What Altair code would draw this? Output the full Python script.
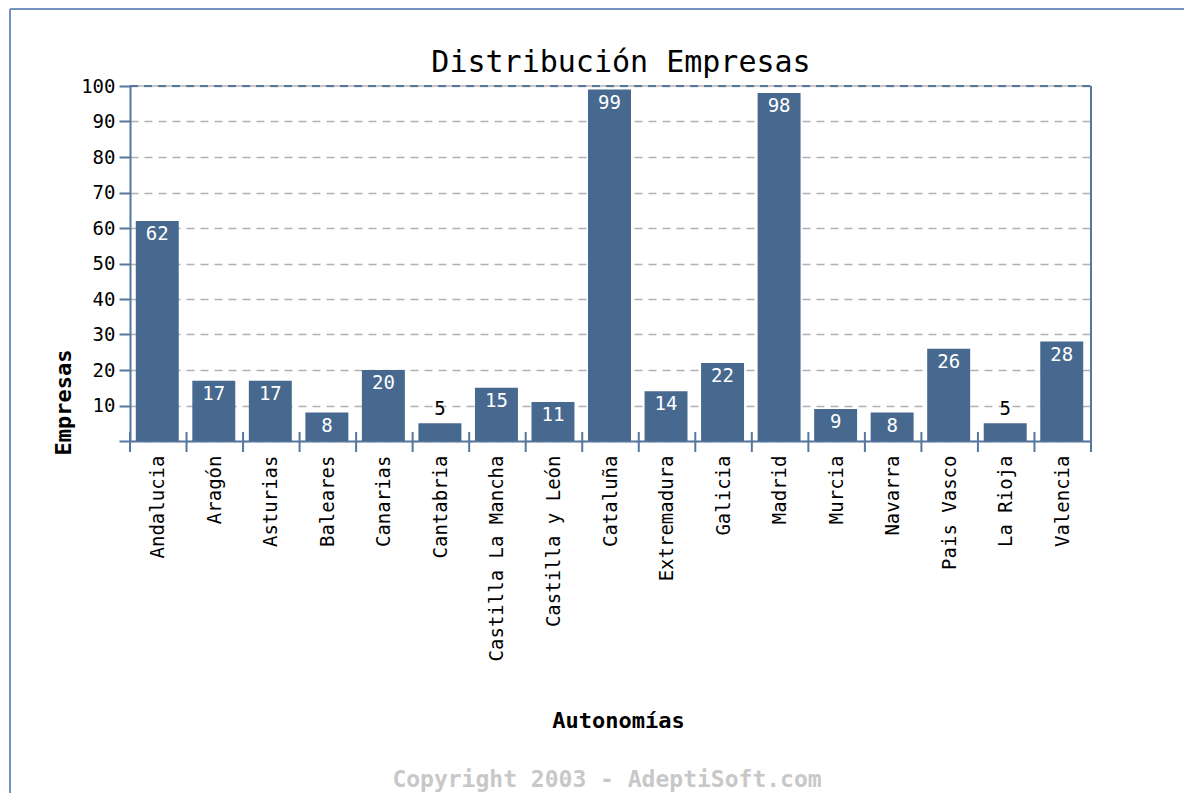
import altair as alt
import pandas as pd

categories = ["Andalucia", "Aragón", "Asturias", "Baleares", "Canarias", "Cantabria",
              "Castilla La Mancha", "Castilla y León", "Cataluña", "Extremadura", "Galicia",
              "Madrid", "Murcia", "Navarra", "Pais Vasco", "La Rioja", "Valencia"]
values = [62, 17, 17, 8, 20, 5, 15, 11, 99, 14, 22, 98, 9, 8, 26, 5, 28]
y_ticks = [0, 10, 20, 30, 40, 50, 60, 70, 80, 90, 100]
title_text = ["Distribución Empresas"]
x_title = "Autonomías"
y_title = "Empresas"
footer = ["Copyright 2003 - AdeptiSoft.com"]

df = pd.DataFrame({"cat": categories, "val": values})
df["inside"] = df["val"] >= 8

W, H = 961, 355
BLUE = "#5577a0"
FRAME = "#7393bd"
BAR = "#48698f"
FONT = "DejaVu Sans Mono"

x_axis = alt.Axis(
    title=x_title, labelAngle=270, labelAlign="right", labelBaseline="middle",
    labelPadding=14, ticks=False, domainColor=BLUE, domainWidth=2, labelLimit=400,
    labelFont=FONT, labelFontSize=19, labelColor="black", labelOverlap=False,
    titleFont=FONT, titleFontSize=22, titleFontWeight="bold", titleColor="black",
    titleX=488, titleY=279, titleAlign="center", titleBaseline="middle", titleAnchor="start",
)
y_axis = alt.Axis(
    values=y_ticks, labelExpr="datum.value == 0 ? '' : datum.label", labelOverlap=False,
    tickSize=11, tickColor=BLUE, tickWidth=2, domainColor=BLUE, domainWidth=2,
    grid=True, gridDash=[8, 6], gridColor="#b0b0b0", gridWidth=1.5,
    labelFont=FONT, labelFontSize=19, labelPadding=4, labelColor="black",
    title=y_title, titleFont=FONT, titleFontSize=22, titleFontWeight="bold", titleColor="black",
    titleX=-67, titleY=316, titleAngle=270, titleAlign="center", titleBaseline="middle",
    titleAnchor="start",
)

xs = alt.Scale(domain=categories, paddingInner=0, paddingOuter=0)
ys = alt.Scale(domain=[0, 100], nice=False)

X = alt.X("cat:N", sort=categories, scale=xs, axis=x_axis)
Y = alt.Y("val:Q", scale=ys, axis=y_axis)

base = alt.Chart(df)

bars = base.mark_bar(color=BAR, width=alt.RelativeBandSize(0.76), xOffset=-1).encode(x=X, y=Y)

inside = base.transform_filter("datum.inside").mark_text(
    font=FONT, fontSize=19, color="white", baseline="top", dy=4, xOffset=-1
).encode(x=X, y=Y, text="val:Q")
outside = base.transform_filter("!datum.inside").mark_text(
    font=FONT, fontSize=19, color="black", baseline="bottom", dy=-4, xOffset=-1
).encode(x=X, y=Y, text="val:Q")

ticks = base.mark_rule(color=BLUE, strokeWidth=2).encode(
    x=alt.X("cat:N", sort=categories, scale=xs, axis=x_axis, bandPosition=0),
    y=alt.value(H - 9), y2=alt.value(H + 11),
)

one = alt.Chart(pd.DataFrame({"k": [0]}))
right_edge = one.mark_rule(color=BLUE, strokeWidth=2).encode(
    x=alt.value(W), y=alt.value(0), y2=alt.value(H + 11))
top_gray = one.mark_rule(color="#c4c4c4", strokeWidth=2).encode(
    x=alt.value(0), x2=alt.value(W), y=alt.value(0))
top_blue = one.mark_rule(color=BLUE, strokeWidth=2, strokeDash=[8, 6]).encode(
    x=alt.value(0), x2=alt.value(W), y=alt.value(0))

frame_left = one.mark_rule(color=FRAME, strokeWidth=2).encode(
    x=alt.value(-120), y=alt.value(-77), y2=alt.value(H + 352))
frame_top = one.mark_rule(color=FRAME, strokeWidth=2).encode(
    x=alt.value(-120), x2=alt.value(W + 93), y=alt.value(-77))

title = alt.Chart(pd.DataFrame({"t": title_text})).mark_text(
    font=FONT, fontSize=30, color="black", align="center", baseline="alphabetic"
).encode(text="t:N", x=alt.value(491), y=alt.value(-14))

foot = alt.Chart(pd.DataFrame({"t": footer})).mark_text(
    font=FONT, fontSize=23, fontWeight="bold", color="#c8c8c8",
    align="center", baseline="middle"
).encode(text="t:N", x=alt.value(477), y=alt.value(694))

chart = alt.layer(
    bars, top_gray, top_blue, inside, outside, ticks, right_edge,
    frame_left, frame_top, title, foot
).properties(
    width=W, height=H,
    autosize=alt.AutoSizeParams(type="none"),
    padding={"left": 122, "top": 78, "right": 93, "bottom": 352},
).configure_view(fill="#e6e6e6", strokeWidth=0).configure(background="white")

chart.save("out.html", embed_options={"renderer": "svg", "actions": False})
